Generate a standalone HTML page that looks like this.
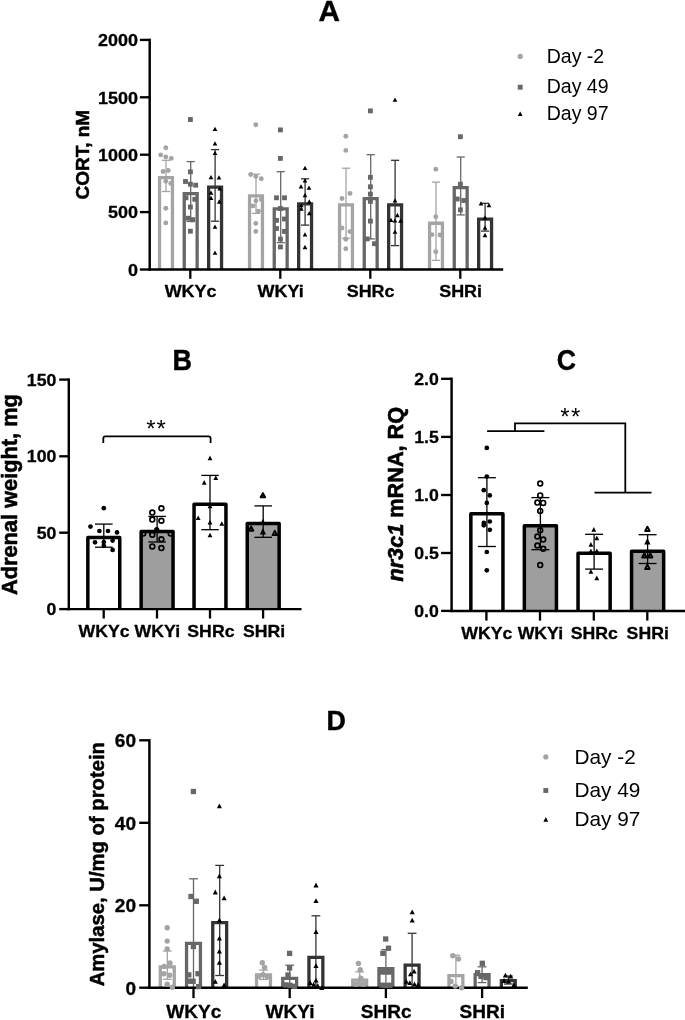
<!DOCTYPE html>
<html><head><meta charset="utf-8"><title>Figure</title>
<style>html,body{margin:0;padding:0;background:#fff;}svg{display:block;will-change:transform;}</style></head><body>
<svg width="685" height="1020" viewBox="0 0 685 1020">
<rect width="685" height="1020" fill="#fff"/>
<text x="0" y="0" font-family='"Liberation Sans", sans-serif' font-size="29.2" font-weight="bold" font-style="normal" text-anchor="middle" fill="#000" stroke="#000" stroke-width="0.4" stroke-linejoin="round" transform="translate(329.30 21.30) scale(1.02 1)">A</text>
<clipPath id="clipA"><rect x="0" y="0" width="685" height="270.70"/></clipPath>
<g clip-path="url(#clipA)">
<path d="M159.55 269.50 V177.55 H172.45 V269.50" fill="none" stroke="#a4a4a4" stroke-width="3.3" stroke-linejoin="miter"/>
<path d="M184.25 269.50 V193.65 H197.15 V269.50" fill="none" stroke="#676767" stroke-width="3.3" stroke-linejoin="miter"/>
<path d="M208.65 269.50 V187.05 H221.55 V269.50" fill="none" stroke="#343434" stroke-width="3.3" stroke-linejoin="miter"/>
<path d="M249.55 269.50 V195.85 H262.45 V269.50" fill="none" stroke="#a4a4a4" stroke-width="3.3" stroke-linejoin="miter"/>
<path d="M274.25 269.50 V208.95 H287.15 V269.50" fill="none" stroke="#676767" stroke-width="3.3" stroke-linejoin="miter"/>
<path d="M298.65 269.50 V203.85 H311.55 V269.50" fill="none" stroke="#343434" stroke-width="3.3" stroke-linejoin="miter"/>
<path d="M339.55 269.50 V204.95 H352.45 V269.50" fill="none" stroke="#a4a4a4" stroke-width="3.3" stroke-linejoin="miter"/>
<path d="M364.25 269.50 V198.65 H377.15 V269.50" fill="none" stroke="#676767" stroke-width="3.3" stroke-linejoin="miter"/>
<path d="M388.65 269.50 V204.95 H401.55 V269.50" fill="none" stroke="#343434" stroke-width="3.3" stroke-linejoin="miter"/>
<path d="M429.55 269.50 V223.25 H442.45 V269.50" fill="none" stroke="#a4a4a4" stroke-width="3.3" stroke-linejoin="miter"/>
<path d="M454.25 269.50 V187.55 H467.15 V269.50" fill="none" stroke="#676767" stroke-width="3.3" stroke-linejoin="miter"/>
<path d="M478.65 269.50 V219.15 H491.55 V269.50" fill="none" stroke="#343434" stroke-width="3.3" stroke-linejoin="miter"/>
<line x1="166.00" y1="160.30" x2="166.00" y2="191.50" stroke="#a4a4a4" stroke-width="1.3" stroke-linecap="butt"/>
<line x1="161.90" y1="160.30" x2="170.10" y2="160.30" stroke="#a4a4a4" stroke-width="1.3" stroke-linecap="butt"/>
<line x1="161.90" y1="191.50" x2="170.10" y2="191.50" stroke="#a4a4a4" stroke-width="1.3" stroke-linecap="butt"/>
<line x1="190.70" y1="161.60" x2="190.70" y2="221.50" stroke="#676767" stroke-width="1.3" stroke-linecap="butt"/>
<line x1="186.60" y1="161.60" x2="194.80" y2="161.60" stroke="#676767" stroke-width="1.3" stroke-linecap="butt"/>
<line x1="186.60" y1="221.50" x2="194.80" y2="221.50" stroke="#676767" stroke-width="1.3" stroke-linecap="butt"/>
<line x1="215.10" y1="149.60" x2="215.10" y2="221.20" stroke="#343434" stroke-width="1.3" stroke-linecap="butt"/>
<line x1="211.00" y1="149.60" x2="219.20" y2="149.60" stroke="#343434" stroke-width="1.3" stroke-linecap="butt"/>
<line x1="211.00" y1="221.20" x2="219.20" y2="221.20" stroke="#343434" stroke-width="1.3" stroke-linecap="butt"/>
<line x1="256.00" y1="174.20" x2="256.00" y2="213.40" stroke="#a4a4a4" stroke-width="1.3" stroke-linecap="butt"/>
<line x1="251.90" y1="174.20" x2="260.10" y2="174.20" stroke="#a4a4a4" stroke-width="1.3" stroke-linecap="butt"/>
<line x1="251.90" y1="213.40" x2="260.10" y2="213.40" stroke="#a4a4a4" stroke-width="1.3" stroke-linecap="butt"/>
<line x1="280.70" y1="171.70" x2="280.70" y2="242.60" stroke="#676767" stroke-width="1.3" stroke-linecap="butt"/>
<line x1="276.60" y1="171.70" x2="284.80" y2="171.70" stroke="#676767" stroke-width="1.3" stroke-linecap="butt"/>
<line x1="276.60" y1="242.60" x2="284.80" y2="242.60" stroke="#676767" stroke-width="1.3" stroke-linecap="butt"/>
<line x1="305.10" y1="178.80" x2="305.10" y2="225.10" stroke="#343434" stroke-width="1.3" stroke-linecap="butt"/>
<line x1="301.00" y1="178.80" x2="309.20" y2="178.80" stroke="#343434" stroke-width="1.3" stroke-linecap="butt"/>
<line x1="301.00" y1="225.10" x2="309.20" y2="225.10" stroke="#343434" stroke-width="1.3" stroke-linecap="butt"/>
<line x1="346.00" y1="168.20" x2="346.00" y2="238.20" stroke="#a4a4a4" stroke-width="1.3" stroke-linecap="butt"/>
<line x1="341.90" y1="168.20" x2="350.10" y2="168.20" stroke="#a4a4a4" stroke-width="1.3" stroke-linecap="butt"/>
<line x1="341.90" y1="238.20" x2="350.10" y2="238.20" stroke="#a4a4a4" stroke-width="1.3" stroke-linecap="butt"/>
<line x1="370.70" y1="154.70" x2="370.70" y2="238.90" stroke="#676767" stroke-width="1.3" stroke-linecap="butt"/>
<line x1="366.60" y1="154.70" x2="374.80" y2="154.70" stroke="#676767" stroke-width="1.3" stroke-linecap="butt"/>
<line x1="366.60" y1="238.90" x2="374.80" y2="238.90" stroke="#676767" stroke-width="1.3" stroke-linecap="butt"/>
<line x1="395.10" y1="160.30" x2="395.10" y2="245.60" stroke="#343434" stroke-width="1.3" stroke-linecap="butt"/>
<line x1="391.00" y1="160.30" x2="399.20" y2="160.30" stroke="#343434" stroke-width="1.3" stroke-linecap="butt"/>
<line x1="391.00" y1="245.60" x2="399.20" y2="245.60" stroke="#343434" stroke-width="1.3" stroke-linecap="butt"/>
<line x1="436.00" y1="182.10" x2="436.00" y2="260.30" stroke="#a4a4a4" stroke-width="1.3" stroke-linecap="butt"/>
<line x1="431.90" y1="182.10" x2="440.10" y2="182.10" stroke="#a4a4a4" stroke-width="1.3" stroke-linecap="butt"/>
<line x1="431.90" y1="260.30" x2="440.10" y2="260.30" stroke="#a4a4a4" stroke-width="1.3" stroke-linecap="butt"/>
<line x1="460.70" y1="157.00" x2="460.70" y2="214.90" stroke="#676767" stroke-width="1.3" stroke-linecap="butt"/>
<line x1="456.60" y1="157.00" x2="464.80" y2="157.00" stroke="#676767" stroke-width="1.3" stroke-linecap="butt"/>
<line x1="456.60" y1="214.90" x2="464.80" y2="214.90" stroke="#676767" stroke-width="1.3" stroke-linecap="butt"/>
<line x1="485.10" y1="203.30" x2="485.10" y2="231.10" stroke="#343434" stroke-width="1.3" stroke-linecap="butt"/>
<line x1="481.00" y1="203.30" x2="489.20" y2="203.30" stroke="#343434" stroke-width="1.3" stroke-linecap="butt"/>
<line x1="481.00" y1="231.10" x2="489.20" y2="231.10" stroke="#343434" stroke-width="1.3" stroke-linecap="butt"/>
</g>
<line x1="149.70" y1="38.70" x2="149.70" y2="270.70" stroke="#000" stroke-width="2.45" stroke-linecap="butt"/>
<line x1="148.50" y1="269.50" x2="503.20" y2="269.50" stroke="#000" stroke-width="2.45" stroke-linecap="butt"/>
<line x1="139.90" y1="39.90" x2="149.70" y2="39.90" stroke="#000" stroke-width="2.35" stroke-linecap="butt"/>
<text x="0" y="0" font-family='"Liberation Sans", sans-serif' font-size="17.3" font-weight="bold" font-style="normal" text-anchor="end" fill="#000" stroke="#000" stroke-width="0.3" stroke-linejoin="round" transform="translate(137.90 46.21) scale(1.04 1)">2000</text>
<line x1="139.90" y1="97.30" x2="149.70" y2="97.30" stroke="#000" stroke-width="2.35" stroke-linecap="butt"/>
<text x="0" y="0" font-family='"Liberation Sans", sans-serif' font-size="17.3" font-weight="bold" font-style="normal" text-anchor="end" fill="#000" stroke="#000" stroke-width="0.3" stroke-linejoin="round" transform="translate(137.90 103.61) scale(1.04 1)">1500</text>
<line x1="139.90" y1="154.70" x2="149.70" y2="154.70" stroke="#000" stroke-width="2.35" stroke-linecap="butt"/>
<text x="0" y="0" font-family='"Liberation Sans", sans-serif' font-size="17.3" font-weight="bold" font-style="normal" text-anchor="end" fill="#000" stroke="#000" stroke-width="0.3" stroke-linejoin="round" transform="translate(137.90 161.01) scale(1.04 1)">1000</text>
<line x1="139.90" y1="212.10" x2="149.70" y2="212.10" stroke="#000" stroke-width="2.35" stroke-linecap="butt"/>
<text x="0" y="0" font-family='"Liberation Sans", sans-serif' font-size="17.3" font-weight="bold" font-style="normal" text-anchor="end" fill="#000" stroke="#000" stroke-width="0.3" stroke-linejoin="round" transform="translate(137.90 218.41) scale(1.04 1)">500</text>
<line x1="139.90" y1="269.50" x2="149.70" y2="269.50" stroke="#000" stroke-width="2.35" stroke-linecap="butt"/>
<text x="0" y="0" font-family='"Liberation Sans", sans-serif' font-size="17.3" font-weight="bold" font-style="normal" text-anchor="end" fill="#000" stroke="#000" stroke-width="0.3" stroke-linejoin="round" transform="translate(137.90 275.81) scale(1.04 1)">0</text>
<line x1="190.30" y1="269.50" x2="190.30" y2="278.80" stroke="#000" stroke-width="2.3" stroke-linecap="butt"/>
<text x="0" y="0" font-family='"Liberation Sans", sans-serif' font-size="17.3" font-weight="bold" font-style="normal" text-anchor="middle" fill="#000" stroke="#000" stroke-width="0.3" stroke-linejoin="round" transform="translate(190.60 297.40) scale(1.04 1)">WKYc</text>
<line x1="280.30" y1="269.50" x2="280.30" y2="278.80" stroke="#000" stroke-width="2.3" stroke-linecap="butt"/>
<text x="0" y="0" font-family='"Liberation Sans", sans-serif' font-size="17.3" font-weight="bold" font-style="normal" text-anchor="middle" fill="#000" stroke="#000" stroke-width="0.3" stroke-linejoin="round" transform="translate(280.60 297.40) scale(1.04 1)">WKYi</text>
<line x1="370.30" y1="269.50" x2="370.30" y2="278.80" stroke="#000" stroke-width="2.3" stroke-linecap="butt"/>
<text x="0" y="0" font-family='"Liberation Sans", sans-serif' font-size="17.3" font-weight="bold" font-style="normal" text-anchor="middle" fill="#000" stroke="#000" stroke-width="0.3" stroke-linejoin="round" transform="translate(370.60 297.40) scale(1.04 1)">SHRc</text>
<line x1="460.30" y1="269.50" x2="460.30" y2="278.80" stroke="#000" stroke-width="2.3" stroke-linecap="butt"/>
<text x="0" y="0" font-family='"Liberation Sans", sans-serif' font-size="17.3" font-weight="bold" font-style="normal" text-anchor="middle" fill="#000" stroke="#000" stroke-width="0.3" stroke-linejoin="round" transform="translate(460.60 297.40) scale(1.04 1)">SHRi</text>
<circle cx="165.80" cy="147.70" r="2.45" fill="#a4a4a4"/>
<circle cx="160.70" cy="154.90" r="2.45" fill="#a4a4a4"/>
<circle cx="165.80" cy="156.90" r="2.45" fill="#a4a4a4"/>
<circle cx="171.30" cy="158.40" r="2.45" fill="#a4a4a4"/>
<circle cx="163.10" cy="171.50" r="2.45" fill="#a4a4a4"/>
<circle cx="168.20" cy="170.50" r="2.45" fill="#a4a4a4"/>
<circle cx="165.80" cy="181.20" r="2.45" fill="#a4a4a4"/>
<circle cx="170.80" cy="183.40" r="2.45" fill="#a4a4a4"/>
<circle cx="165.80" cy="208.30" r="2.45" fill="#a4a4a4"/>
<circle cx="165.80" cy="222.90" r="2.45" fill="#a4a4a4"/>
<rect x="187.97" y="117.08" width="4.85" height="4.85" fill="#676767"/>
<rect x="187.97" y="169.38" width="4.85" height="4.85" fill="#676767"/>
<rect x="183.07" y="179.07" width="4.85" height="4.85" fill="#676767"/>
<rect x="187.97" y="181.77" width="4.85" height="4.85" fill="#676767"/>
<rect x="193.27" y="182.77" width="4.85" height="4.85" fill="#676767"/>
<rect x="183.57" y="195.38" width="4.85" height="4.85" fill="#676767"/>
<rect x="192.38" y="196.88" width="4.85" height="4.85" fill="#676767"/>
<rect x="187.97" y="204.57" width="4.85" height="4.85" fill="#676767"/>
<rect x="185.97" y="215.77" width="4.85" height="4.85" fill="#676767"/>
<rect x="190.38" y="217.27" width="4.85" height="4.85" fill="#676767"/>
<rect x="187.97" y="228.77" width="4.85" height="4.85" fill="#676767"/>
<polygon points="215.00,126.75 217.35,131.05 212.65,131.05" fill="#000"/>
<polygon points="215.00,141.25 217.35,145.55 212.65,145.55" fill="#000"/>
<polygon points="215.00,150.65 217.35,154.95 212.65,154.95" fill="#000"/>
<polygon points="211.00,174.95 213.35,179.25 208.65,179.25" fill="#000"/>
<polygon points="219.00,175.25 221.35,179.55 216.65,179.55" fill="#000"/>
<polygon points="219.80,186.15 222.15,190.45 217.45,190.45" fill="#000"/>
<polygon points="211.00,190.55 213.35,194.85 208.65,194.85" fill="#000"/>
<polygon points="211.00,195.65 213.35,199.95 208.65,199.95" fill="#000"/>
<polygon points="219.30,199.35 221.65,203.65 216.95,203.65" fill="#000"/>
<polygon points="215.00,224.55 217.35,228.85 212.65,228.85" fill="#000"/>
<polygon points="215.00,250.45 217.35,254.75 212.65,254.75" fill="#000"/>
<circle cx="255.80" cy="124.80" r="2.45" fill="#a4a4a4"/>
<circle cx="250.70" cy="174.50" r="2.45" fill="#a4a4a4"/>
<circle cx="255.80" cy="176.40" r="2.45" fill="#a4a4a4"/>
<circle cx="261.30" cy="178.80" r="2.45" fill="#a4a4a4"/>
<circle cx="255.90" cy="200.80" r="2.45" fill="#a4a4a4"/>
<circle cx="261.30" cy="199.50" r="2.45" fill="#a4a4a4"/>
<circle cx="252.90" cy="205.90" r="2.45" fill="#a4a4a4"/>
<circle cx="258.40" cy="211.10" r="2.45" fill="#a4a4a4"/>
<circle cx="255.80" cy="223.40" r="2.45" fill="#a4a4a4"/>
<circle cx="255.80" cy="231.40" r="2.45" fill="#a4a4a4"/>
<rect x="277.97" y="127.48" width="4.85" height="4.85" fill="#676767"/>
<rect x="277.97" y="155.97" width="4.85" height="4.85" fill="#676767"/>
<rect x="274.07" y="195.38" width="4.85" height="4.85" fill="#676767"/>
<rect x="282.07" y="195.38" width="4.85" height="4.85" fill="#676767"/>
<rect x="277.97" y="206.07" width="4.85" height="4.85" fill="#676767"/>
<rect x="274.07" y="217.97" width="4.85" height="4.85" fill="#676767"/>
<rect x="282.07" y="216.57" width="4.85" height="4.85" fill="#676767"/>
<rect x="274.07" y="226.07" width="4.85" height="4.85" fill="#676767"/>
<rect x="282.07" y="228.97" width="4.85" height="4.85" fill="#676767"/>
<rect x="277.97" y="236.67" width="4.85" height="4.85" fill="#676767"/>
<rect x="277.97" y="244.57" width="4.85" height="4.85" fill="#676767"/>
<polygon points="305.00,165.75 307.35,170.05 302.65,170.05" fill="#000"/>
<polygon points="305.00,178.15 307.35,182.45 302.65,182.45" fill="#000"/>
<polygon points="301.00,184.25 303.35,188.55 298.65,188.55" fill="#000"/>
<polygon points="309.00,185.45 311.35,189.75 306.65,189.75" fill="#000"/>
<polygon points="305.00,193.05 307.35,197.35 302.65,197.35" fill="#000"/>
<polygon points="301.30,202.95 303.65,207.25 298.95,207.25" fill="#000"/>
<polygon points="301.30,206.35 303.65,210.65 298.95,210.65" fill="#000"/>
<polygon points="309.30,199.35 311.65,203.65 306.95,203.65" fill="#000"/>
<polygon points="309.30,210.95 311.65,215.25 306.95,215.25" fill="#000"/>
<polygon points="305.00,232.15 307.35,236.45 302.65,236.45" fill="#000"/>
<polygon points="305.00,244.85 307.35,249.15 302.65,249.15" fill="#000"/>
<circle cx="345.80" cy="136.20" r="2.45" fill="#a4a4a4"/>
<circle cx="345.80" cy="150.40" r="2.45" fill="#a4a4a4"/>
<circle cx="350.00" cy="193.40" r="2.45" fill="#a4a4a4"/>
<circle cx="342.00" cy="198.50" r="2.45" fill="#a4a4a4"/>
<circle cx="342.00" cy="228.00" r="2.45" fill="#a4a4a4"/>
<circle cx="350.00" cy="231.60" r="2.45" fill="#a4a4a4"/>
<circle cx="345.80" cy="239.30" r="2.45" fill="#a4a4a4"/>
<circle cx="345.80" cy="248.80" r="2.45" fill="#a4a4a4"/>
<rect x="367.97" y="108.48" width="4.85" height="4.85" fill="#676767"/>
<rect x="367.97" y="174.88" width="4.85" height="4.85" fill="#676767"/>
<rect x="367.97" y="184.38" width="4.85" height="4.85" fill="#676767"/>
<rect x="367.97" y="191.67" width="4.85" height="4.85" fill="#676767"/>
<rect x="367.97" y="198.97" width="4.85" height="4.85" fill="#676767"/>
<rect x="367.97" y="218.67" width="4.85" height="4.85" fill="#676767"/>
<rect x="364.77" y="236.47" width="4.85" height="4.85" fill="#676767"/>
<rect x="372.07" y="241.27" width="4.85" height="4.85" fill="#676767"/>
<polygon points="395.00,97.55 397.35,101.85 392.65,101.85" fill="#000"/>
<polygon points="395.00,198.25 397.35,202.55 392.65,202.55" fill="#000"/>
<polygon points="397.40,212.85 399.75,217.15 395.05,217.15" fill="#000"/>
<polygon points="391.00,217.75 393.35,222.05 388.65,222.05" fill="#000"/>
<polygon points="395.00,218.25 397.35,222.55 392.65,222.55" fill="#000"/>
<polygon points="400.50,218.55 402.85,222.85 398.15,222.85" fill="#000"/>
<polygon points="395.00,229.45 397.35,233.75 392.65,233.75" fill="#000"/>
<circle cx="435.80" cy="169.30" r="2.45" fill="#a4a4a4"/>
<circle cx="435.80" cy="216.80" r="2.45" fill="#a4a4a4"/>
<circle cx="432.00" cy="234.60" r="2.45" fill="#a4a4a4"/>
<circle cx="440.00" cy="235.00" r="2.45" fill="#a4a4a4"/>
<circle cx="435.80" cy="251.80" r="2.45" fill="#a4a4a4"/>
<rect x="457.97" y="134.27" width="4.85" height="4.85" fill="#676767"/>
<rect x="457.97" y="181.77" width="4.85" height="4.85" fill="#676767"/>
<rect x="454.77" y="196.57" width="4.85" height="4.85" fill="#676767"/>
<rect x="461.38" y="198.07" width="4.85" height="4.85" fill="#676767"/>
<rect x="457.97" y="207.47" width="4.85" height="4.85" fill="#676767"/>
<polygon points="481.00,201.25 483.35,205.55 478.65,205.55" fill="#000"/>
<polygon points="489.00,203.05 491.35,207.35 486.65,207.35" fill="#000"/>
<polygon points="485.00,215.35 487.35,219.65 482.65,219.65" fill="#000"/>
<polygon points="485.00,225.55 487.35,229.85 482.65,229.85" fill="#000"/>
<polygon points="485.00,232.85 487.35,237.15 482.65,237.15" fill="#000"/>
<text x="0" y="0" font-family='"Liberation Sans", sans-serif' font-size="19.0" font-weight="bold" font-style="normal" text-anchor="middle" fill="#000" stroke="#000" stroke-width="0.5" stroke-linejoin="round" transform="translate(89.30 154.70) rotate(-90)">CORT, nM</text>
<circle cx="520.20" cy="56.40" r="2.6" fill="#a4a4a4"/>
<rect x="517.75" y="84.75" width="4.9" height="4.9" fill="#676767"/>
<polygon points="520.20,111.50 522.60,116.10 517.80,116.10" fill="#000"/>
<text x="0" y="0" font-family='"Liberation Sans", sans-serif' font-size="19.5" font-weight="normal" font-style="normal" text-anchor="start" fill="#000" transform="translate(546.70 62.50)">Day -2</text>
<text x="0" y="0" font-family='"Liberation Sans", sans-serif' font-size="19.5" font-weight="normal" font-style="normal" text-anchor="start" fill="#000" transform="translate(546.70 92.80)">Day 49</text>
<text x="0" y="0" font-family='"Liberation Sans", sans-serif' font-size="19.5" font-weight="normal" font-style="normal" text-anchor="start" fill="#000" transform="translate(546.70 119.60)">Day 97</text>
<text x="0" y="0" font-family='"Liberation Sans", sans-serif' font-size="28.3" font-weight="bold" font-style="normal" text-anchor="middle" fill="#000" stroke="#000" stroke-width="0.4" stroke-linejoin="round" transform="translate(336.10 729.80) scale(0.95 1)">D</text>
<clipPath id="clipD"><rect x="0" y="0" width="685" height="988.90"/></clipPath>
<g clip-path="url(#clipD)">
<path d="M160.35 987.70 V966.85 H174.25 V987.70" fill="none" stroke="#a4a4a4" stroke-width="3.3" stroke-linejoin="miter"/>
<path d="M186.55 987.70 V943.35 H200.45 V987.70" fill="none" stroke="#676767" stroke-width="3.3" stroke-linejoin="miter"/>
<path d="M212.75 987.70 V922.65 H226.65 V987.70" fill="none" stroke="#343434" stroke-width="3.3" stroke-linejoin="miter"/>
<path d="M256.55 987.70 V974.85 H270.45 V987.70" fill="none" stroke="#a4a4a4" stroke-width="3.3" stroke-linejoin="miter"/>
<path d="M282.75 987.70 V978.35 H296.65 V987.70" fill="none" stroke="#676767" stroke-width="3.3" stroke-linejoin="miter"/>
<path d="M308.95 987.70 V957.35 H322.85 V987.70" fill="none" stroke="#343434" stroke-width="3.3" stroke-linejoin="miter"/>
<path d="M352.75 987.70 V980.15 H366.65 V987.70" fill="none" stroke="#a4a4a4" stroke-width="3.3" stroke-linejoin="miter"/>
<path d="M378.95 987.70 V968.55 H392.85 V987.70" fill="none" stroke="#676767" stroke-width="3.3" stroke-linejoin="miter"/>
<path d="M405.15 987.70 V965.05 H419.05 V987.70" fill="none" stroke="#343434" stroke-width="3.3" stroke-linejoin="miter"/>
<path d="M448.95 987.70 V975.55 H462.85 V987.70" fill="none" stroke="#a4a4a4" stroke-width="3.3" stroke-linejoin="miter"/>
<path d="M475.15 987.70 V974.65 H489.05 V987.70" fill="none" stroke="#676767" stroke-width="3.3" stroke-linejoin="miter"/>
<path d="M501.35 987.70 V980.65 H515.25 V987.70" fill="none" stroke="#343434" stroke-width="3.3" stroke-linejoin="miter"/>
<line x1="167.30" y1="951.00" x2="167.30" y2="979.30" stroke="#a4a4a4" stroke-width="1.3" stroke-linecap="butt"/>
<line x1="162.90" y1="951.00" x2="171.70" y2="951.00" stroke="#a4a4a4" stroke-width="1.3" stroke-linecap="butt"/>
<line x1="162.90" y1="979.30" x2="171.70" y2="979.30" stroke="#a4a4a4" stroke-width="1.3" stroke-linecap="butt"/>
<line x1="193.50" y1="878.80" x2="193.50" y2="987.70" stroke="#676767" stroke-width="1.3" stroke-linecap="butt"/>
<line x1="189.10" y1="878.80" x2="197.90" y2="878.80" stroke="#676767" stroke-width="1.3" stroke-linecap="butt"/>
<line x1="219.70" y1="865.40" x2="219.70" y2="975.50" stroke="#343434" stroke-width="1.3" stroke-linecap="butt"/>
<line x1="215.30" y1="865.40" x2="224.10" y2="865.40" stroke="#343434" stroke-width="1.3" stroke-linecap="butt"/>
<line x1="215.30" y1="975.50" x2="224.10" y2="975.50" stroke="#343434" stroke-width="1.3" stroke-linecap="butt"/>
<line x1="263.50" y1="970.10" x2="263.50" y2="979.50" stroke="#a4a4a4" stroke-width="1.3" stroke-linecap="butt"/>
<line x1="259.10" y1="970.10" x2="267.90" y2="970.10" stroke="#a4a4a4" stroke-width="1.3" stroke-linecap="butt"/>
<line x1="259.10" y1="979.50" x2="267.90" y2="979.50" stroke="#a4a4a4" stroke-width="1.3" stroke-linecap="butt"/>
<line x1="289.70" y1="965.20" x2="289.70" y2="987.70" stroke="#676767" stroke-width="1.3" stroke-linecap="butt"/>
<line x1="285.30" y1="965.20" x2="294.10" y2="965.20" stroke="#676767" stroke-width="1.3" stroke-linecap="butt"/>
<line x1="315.90" y1="915.80" x2="315.90" y2="987.70" stroke="#343434" stroke-width="1.3" stroke-linecap="butt"/>
<line x1="311.50" y1="915.80" x2="320.30" y2="915.80" stroke="#343434" stroke-width="1.3" stroke-linecap="butt"/>
<line x1="359.70" y1="971.80" x2="359.70" y2="987.70" stroke="#a4a4a4" stroke-width="1.3" stroke-linecap="butt"/>
<line x1="355.30" y1="971.80" x2="364.10" y2="971.80" stroke="#a4a4a4" stroke-width="1.3" stroke-linecap="butt"/>
<line x1="385.90" y1="949.60" x2="385.90" y2="987.00" stroke="#676767" stroke-width="1.3" stroke-linecap="butt"/>
<line x1="381.50" y1="949.60" x2="390.30" y2="949.60" stroke="#676767" stroke-width="1.3" stroke-linecap="butt"/>
<line x1="381.50" y1="987.00" x2="390.30" y2="987.00" stroke="#676767" stroke-width="1.3" stroke-linecap="butt"/>
<line x1="412.10" y1="933.30" x2="412.10" y2="987.70" stroke="#343434" stroke-width="1.3" stroke-linecap="butt"/>
<line x1="407.70" y1="933.30" x2="416.50" y2="933.30" stroke="#343434" stroke-width="1.3" stroke-linecap="butt"/>
<line x1="455.90" y1="955.20" x2="455.90" y2="987.70" stroke="#a4a4a4" stroke-width="1.3" stroke-linecap="butt"/>
<line x1="451.50" y1="955.20" x2="460.30" y2="955.20" stroke="#a4a4a4" stroke-width="1.3" stroke-linecap="butt"/>
<line x1="482.10" y1="966.80" x2="482.10" y2="982.60" stroke="#676767" stroke-width="1.3" stroke-linecap="butt"/>
<line x1="477.70" y1="966.80" x2="486.50" y2="966.80" stroke="#676767" stroke-width="1.3" stroke-linecap="butt"/>
<line x1="477.70" y1="982.60" x2="486.50" y2="982.60" stroke="#676767" stroke-width="1.3" stroke-linecap="butt"/>
<line x1="508.30" y1="976.00" x2="508.30" y2="984.00" stroke="#343434" stroke-width="1.3" stroke-linecap="butt"/>
<line x1="503.90" y1="976.00" x2="512.70" y2="976.00" stroke="#343434" stroke-width="1.3" stroke-linecap="butt"/>
<line x1="503.90" y1="984.00" x2="512.70" y2="984.00" stroke="#343434" stroke-width="1.3" stroke-linecap="butt"/>
</g>
<line x1="149.40" y1="739.10" x2="149.40" y2="988.90" stroke="#000" stroke-width="2.45" stroke-linecap="butt"/>
<line x1="148.20" y1="987.70" x2="527.80" y2="987.70" stroke="#000" stroke-width="2.45" stroke-linecap="butt"/>
<line x1="139.20" y1="740.30" x2="149.40" y2="740.30" stroke="#000" stroke-width="2.35" stroke-linecap="butt"/>
<text x="0" y="0" font-family='"Liberation Sans", sans-serif' font-size="18.0" font-weight="bold" font-style="normal" text-anchor="end" fill="#000" stroke="#000" stroke-width="0.3" stroke-linejoin="round" transform="translate(136.00 747.26) scale(1.06 1)">60</text>
<line x1="139.20" y1="822.80" x2="149.40" y2="822.80" stroke="#000" stroke-width="2.35" stroke-linecap="butt"/>
<text x="0" y="0" font-family='"Liberation Sans", sans-serif' font-size="18.0" font-weight="bold" font-style="normal" text-anchor="end" fill="#000" stroke="#000" stroke-width="0.3" stroke-linejoin="round" transform="translate(136.00 829.76) scale(1.06 1)">40</text>
<line x1="139.20" y1="905.30" x2="149.40" y2="905.30" stroke="#000" stroke-width="2.35" stroke-linecap="butt"/>
<text x="0" y="0" font-family='"Liberation Sans", sans-serif' font-size="18.0" font-weight="bold" font-style="normal" text-anchor="end" fill="#000" stroke="#000" stroke-width="0.3" stroke-linejoin="round" transform="translate(136.00 912.26) scale(1.06 1)">20</text>
<line x1="139.20" y1="987.70" x2="149.40" y2="987.70" stroke="#000" stroke-width="2.35" stroke-linecap="butt"/>
<text x="0" y="0" font-family='"Liberation Sans", sans-serif' font-size="18.0" font-weight="bold" font-style="normal" text-anchor="end" fill="#000" stroke="#000" stroke-width="0.3" stroke-linejoin="round" transform="translate(136.00 994.66) scale(1.06 1)">0</text>
<line x1="193.50" y1="987.70" x2="193.50" y2="998.10" stroke="#000" stroke-width="2.3" stroke-linecap="butt"/>
<text x="0" y="0" font-family='"Liberation Sans", sans-serif' font-size="18.0" font-weight="bold" font-style="normal" text-anchor="middle" fill="#000" stroke="#000" stroke-width="0.3" stroke-linejoin="round" transform="translate(193.80 1017.70) scale(1.06 1)">WKYc</text>
<line x1="289.70" y1="987.70" x2="289.70" y2="998.10" stroke="#000" stroke-width="2.3" stroke-linecap="butt"/>
<text x="0" y="0" font-family='"Liberation Sans", sans-serif' font-size="18.0" font-weight="bold" font-style="normal" text-anchor="middle" fill="#000" stroke="#000" stroke-width="0.3" stroke-linejoin="round" transform="translate(290.00 1017.70) scale(1.06 1)">WKYi</text>
<line x1="385.90" y1="987.70" x2="385.90" y2="998.10" stroke="#000" stroke-width="2.3" stroke-linecap="butt"/>
<text x="0" y="0" font-family='"Liberation Sans", sans-serif' font-size="18.0" font-weight="bold" font-style="normal" text-anchor="middle" fill="#000" stroke="#000" stroke-width="0.3" stroke-linejoin="round" transform="translate(386.20 1017.70) scale(1.06 1)">SHRc</text>
<line x1="482.10" y1="987.70" x2="482.10" y2="998.10" stroke="#000" stroke-width="2.3" stroke-linecap="butt"/>
<text x="0" y="0" font-family='"Liberation Sans", sans-serif' font-size="18.0" font-weight="bold" font-style="normal" text-anchor="middle" fill="#000" stroke="#000" stroke-width="0.3" stroke-linejoin="round" transform="translate(482.40 1017.70) scale(1.06 1)">SHRi</text>
<circle cx="167.20" cy="927.70" r="2.7" fill="#a4a4a4"/>
<circle cx="167.20" cy="941.10" r="2.7" fill="#a4a4a4"/>
<circle cx="167.20" cy="949.00" r="2.7" fill="#a4a4a4"/>
<circle cx="170.00" cy="963.00" r="2.7" fill="#a4a4a4"/>
<circle cx="164.30" cy="966.50" r="2.7" fill="#a4a4a4"/>
<circle cx="163.90" cy="973.70" r="2.7" fill="#a4a4a4"/>
<circle cx="169.60" cy="975.30" r="2.7" fill="#a4a4a4"/>
<circle cx="167.20" cy="984.20" r="2.7" fill="#a4a4a4"/>
<circle cx="172.40" cy="987.20" r="2.7" fill="#a4a4a4"/>
<rect x="190.75" y="788.85" width="5.3" height="5.3" fill="#676767"/>
<rect x="188.35" y="893.85" width="5.3" height="5.3" fill="#676767"/>
<rect x="193.65" y="898.65" width="5.3" height="5.3" fill="#676767"/>
<rect x="190.75" y="943.85" width="5.3" height="5.3" fill="#676767"/>
<rect x="186.15" y="972.25" width="5.3" height="5.3" fill="#676767"/>
<rect x="195.35" y="971.05" width="5.3" height="5.3" fill="#676767"/>
<rect x="190.45" y="978.65" width="5.3" height="5.3" fill="#676767"/>
<rect x="186.25" y="978.55" width="5.3" height="5.3" fill="#676767"/>
<rect x="196.05" y="983.95" width="5.3" height="5.3" fill="#676767"/>
<polygon points="219.40,803.40 221.95,808.20 216.85,808.20" fill="#000"/>
<polygon points="219.40,873.50 221.95,878.30 216.85,878.30" fill="#000"/>
<polygon points="215.30,889.60 217.85,894.40 212.75,894.40" fill="#000"/>
<polygon points="224.10,895.40 226.65,900.20 221.55,900.20" fill="#000"/>
<polygon points="219.40,917.60 221.95,922.40 216.85,922.40" fill="#000"/>
<polygon points="219.40,935.70 221.95,940.50 216.85,940.50" fill="#000"/>
<polygon points="219.40,948.80 221.95,953.60 216.85,953.60" fill="#000"/>
<polygon points="219.40,959.90 221.95,964.70 216.85,964.70" fill="#000"/>
<polygon points="215.30,978.90 217.85,983.70 212.75,983.70" fill="#000"/>
<polygon points="224.10,982.40 226.65,987.20 221.55,987.20" fill="#000"/>
<circle cx="262.30" cy="962.70" r="2.7" fill="#a4a4a4"/>
<circle cx="264.60" cy="967.40" r="2.7" fill="#a4a4a4"/>
<circle cx="259.00" cy="976.20" r="2.7" fill="#a4a4a4"/>
<circle cx="267.30" cy="976.70" r="2.7" fill="#a4a4a4"/>
<circle cx="263.00" cy="974.80" r="2.7" fill="#a4a4a4"/>
<rect x="286.95" y="950.75" width="5.3" height="5.3" fill="#676767"/>
<rect x="286.95" y="965.35" width="5.3" height="5.3" fill="#676767"/>
<rect x="285.35" y="972.35" width="5.3" height="5.3" fill="#676767"/>
<rect x="282.85" y="982.25" width="5.3" height="5.3" fill="#676767"/>
<rect x="287.35" y="982.65" width="5.3" height="5.3" fill="#676767"/>
<rect x="291.85" y="983.65" width="5.3" height="5.3" fill="#676767"/>
<polygon points="316.00,882.60 318.55,887.40 313.45,887.40" fill="#000"/>
<polygon points="316.00,898.30 318.55,903.10 313.45,903.10" fill="#000"/>
<polygon points="316.00,929.30 318.55,934.10 313.45,934.10" fill="#000"/>
<polygon points="316.00,963.10 318.55,967.90 313.45,967.90" fill="#000"/>
<polygon points="316.00,977.70 318.55,982.50 313.45,982.50" fill="#000"/>
<polygon points="310.10,980.10 312.65,984.90 307.55,984.90" fill="#000"/>
<polygon points="313.60,981.90 316.15,986.70 311.05,986.70" fill="#000"/>
<polygon points="317.70,983.10 320.25,987.90 315.15,987.90" fill="#000"/>
<polygon points="321.80,985.20 324.35,990.00 319.25,990.00" fill="#000"/>
<circle cx="358.40" cy="963.40" r="2.7" fill="#a4a4a4"/>
<circle cx="360.20" cy="969.70" r="2.7" fill="#a4a4a4"/>
<circle cx="360.80" cy="978.20" r="2.7" fill="#a4a4a4"/>
<circle cx="355.30" cy="984.30" r="2.7" fill="#a4a4a4"/>
<circle cx="359.50" cy="983.60" r="2.7" fill="#a4a4a4"/>
<circle cx="363.80" cy="984.30" r="2.7" fill="#a4a4a4"/>
<rect x="383.05" y="936.35" width="5.3" height="5.3" fill="#676767"/>
<rect x="385.85" y="945.55" width="5.3" height="5.3" fill="#676767"/>
<rect x="380.25" y="950.65" width="5.3" height="5.3" fill="#676767"/>
<rect x="379.15" y="969.35" width="5.3" height="5.3" fill="#676767"/>
<rect x="383.35" y="969.35" width="5.3" height="5.3" fill="#676767"/>
<rect x="387.55" y="969.35" width="5.3" height="5.3" fill="#676767"/>
<rect x="379.35" y="982.55" width="5.3" height="5.3" fill="#676767"/>
<rect x="383.35" y="982.85" width="5.3" height="5.3" fill="#676767"/>
<rect x="387.35" y="982.55" width="5.3" height="5.3" fill="#676767"/>
<polygon points="412.20,909.50 414.75,914.30 409.65,914.30" fill="#000"/>
<polygon points="412.20,917.70 414.75,922.50 409.65,922.50" fill="#000"/>
<polygon points="414.10,968.70 416.65,973.50 411.55,973.50" fill="#000"/>
<polygon points="410.60,971.40 413.15,976.20 408.05,976.20" fill="#000"/>
<polygon points="406.30,979.00 408.85,983.80 403.75,983.80" fill="#000"/>
<polygon points="409.80,980.20 412.35,985.00 407.25,985.00" fill="#000"/>
<polygon points="414.50,981.60 417.05,986.40 411.95,986.40" fill="#000"/>
<polygon points="418.00,982.30 420.55,987.10 415.45,987.10" fill="#000"/>
<circle cx="452.80" cy="955.70" r="2.7" fill="#a4a4a4"/>
<circle cx="458.50" cy="959.00" r="2.7" fill="#a4a4a4"/>
<circle cx="451.10" cy="981.40" r="2.7" fill="#a4a4a4"/>
<circle cx="455.20" cy="986.10" r="2.7" fill="#a4a4a4"/>
<circle cx="461.60" cy="987.80" r="2.7" fill="#a4a4a4"/>
<rect x="479.65" y="960.65" width="5.3" height="5.3" fill="#676767"/>
<rect x="474.95" y="970.05" width="5.3" height="5.3" fill="#676767"/>
<rect x="478.35" y="973.75" width="5.3" height="5.3" fill="#676767"/>
<rect x="483.35" y="974.95" width="5.3" height="5.3" fill="#676767"/>
<polygon points="505.40,972.80 507.95,977.60 502.85,977.60" fill="#000"/>
<polygon points="510.70,973.80 513.25,978.60 508.15,978.60" fill="#000"/>
<polygon points="504.00,978.10 506.55,982.90 501.45,982.90" fill="#000"/>
<polygon points="508.50,978.60 511.05,983.40 505.95,983.40" fill="#000"/>
<polygon points="513.80,982.50 516.35,987.30 511.25,987.30" fill="#000"/>
<text x="0" y="0" font-family='"Liberation Sans", sans-serif' font-size="20.25" font-weight="bold" font-style="normal" text-anchor="middle" fill="#000" stroke="#000" stroke-width="0.5" stroke-linejoin="round" transform="translate(103.80 864.20) rotate(-90)">Amylase, U/mg of protein</text>
<circle cx="545.80" cy="756.90" r="2.6" fill="#a4a4a4"/>
<rect x="543.35" y="788.05" width="4.9" height="4.9" fill="#676767"/>
<polygon points="545.80,817.10 548.20,821.70 543.40,821.70" fill="#000"/>
<text x="0" y="0" font-family='"Liberation Sans", sans-serif' font-size="20.8" font-weight="normal" font-style="normal" text-anchor="start" fill="#000" transform="translate(574.50 763.70)">Day -2</text>
<text x="0" y="0" font-family='"Liberation Sans", sans-serif' font-size="20.8" font-weight="normal" font-style="normal" text-anchor="start" fill="#000" transform="translate(574.50 797.00)">Day 49</text>
<text x="0" y="0" font-family='"Liberation Sans", sans-serif' font-size="20.8" font-weight="normal" font-style="normal" text-anchor="start" fill="#000" transform="translate(574.50 825.90)">Day 97</text>
<text x="0" y="0" font-family='"Liberation Sans", sans-serif' font-size="29.3" font-weight="bold" font-style="normal" text-anchor="middle" fill="#000" stroke="#000" stroke-width="0.4" stroke-linejoin="round" transform="translate(182.30 369.80) scale(0.92 1)">B</text>
<rect x="87.85" y="537.45" width="31.90" height="71.65" fill="#fff"/>
<path d="M87.85 609.10 V537.45 H119.75 V609.10" fill="none" stroke="#000" stroke-width="3.5" stroke-linejoin="round"/>
<rect x="141.15" y="531.45" width="31.90" height="77.65" fill="#9e9e9e"/>
<path d="M141.15 609.10 V531.45 H173.05 V609.10" fill="none" stroke="#000" stroke-width="3.5" stroke-linejoin="round"/>
<rect x="194.05" y="504.15" width="31.90" height="104.95" fill="#fff"/>
<path d="M194.05 609.10 V504.15 H225.95 V609.10" fill="none" stroke="#000" stroke-width="3.5" stroke-linejoin="round"/>
<rect x="247.25" y="523.55" width="31.90" height="85.55" fill="#9e9e9e"/>
<path d="M247.25 609.10 V523.55 H279.15 V609.10" fill="none" stroke="#000" stroke-width="3.5" stroke-linejoin="round"/>
<line x1="103.80" y1="524.10" x2="103.80" y2="547.20" stroke="#000" stroke-width="1.3" stroke-linecap="butt"/>
<line x1="95.00" y1="524.10" x2="112.60" y2="524.10" stroke="#000" stroke-width="1.3" stroke-linecap="butt"/>
<line x1="95.00" y1="547.20" x2="112.60" y2="547.20" stroke="#000" stroke-width="1.3" stroke-linecap="butt"/>
<line x1="157.10" y1="516.40" x2="157.10" y2="542.00" stroke="#000" stroke-width="1.3" stroke-linecap="butt"/>
<line x1="148.30" y1="516.40" x2="165.90" y2="516.40" stroke="#000" stroke-width="1.3" stroke-linecap="butt"/>
<line x1="148.30" y1="542.00" x2="165.90" y2="542.00" stroke="#000" stroke-width="1.3" stroke-linecap="butt"/>
<line x1="210.00" y1="475.40" x2="210.00" y2="529.70" stroke="#000" stroke-width="1.3" stroke-linecap="butt"/>
<line x1="201.20" y1="475.40" x2="218.80" y2="475.40" stroke="#000" stroke-width="1.3" stroke-linecap="butt"/>
<line x1="201.20" y1="529.70" x2="218.80" y2="529.70" stroke="#000" stroke-width="1.3" stroke-linecap="butt"/>
<line x1="263.20" y1="505.90" x2="263.20" y2="537.30" stroke="#000" stroke-width="1.3" stroke-linecap="butt"/>
<line x1="254.40" y1="505.90" x2="272.00" y2="505.90" stroke="#000" stroke-width="1.3" stroke-linecap="butt"/>
<line x1="254.40" y1="537.30" x2="272.00" y2="537.30" stroke="#000" stroke-width="1.3" stroke-linecap="butt"/>
<circle cx="103.80" cy="508.20" r="2.35" fill="#000"/>
<circle cx="90.50" cy="526.60" r="2.35" fill="#000"/>
<circle cx="99.40" cy="531.00" r="2.35" fill="#000"/>
<circle cx="108.00" cy="531.00" r="2.35" fill="#000"/>
<circle cx="117.00" cy="532.40" r="2.35" fill="#000"/>
<circle cx="95.00" cy="542.30" r="2.35" fill="#000"/>
<circle cx="103.80" cy="542.00" r="2.35" fill="#000"/>
<circle cx="112.60" cy="540.60" r="2.35" fill="#000"/>
<circle cx="103.80" cy="545.80" r="2.35" fill="#000"/>
<circle cx="112.60" cy="549.90" r="2.35" fill="#000"/>
<circle cx="161.40" cy="508.20" r="2.4" fill="none" stroke="#000" stroke-width="1.7"/>
<circle cx="152.30" cy="512.60" r="2.4" fill="none" stroke="#000" stroke-width="1.7"/>
<circle cx="152.30" cy="519.60" r="2.4" fill="none" stroke="#000" stroke-width="1.7"/>
<circle cx="161.40" cy="520.80" r="2.4" fill="none" stroke="#000" stroke-width="1.7"/>
<circle cx="143.20" cy="533.60" r="2.4" fill="none" stroke="#000" stroke-width="1.7"/>
<circle cx="170.70" cy="533.60" r="2.4" fill="none" stroke="#000" stroke-width="1.7"/>
<circle cx="152.30" cy="534.80" r="2.4" fill="none" stroke="#000" stroke-width="1.7"/>
<circle cx="161.40" cy="539.20" r="2.4" fill="none" stroke="#000" stroke-width="1.7"/>
<circle cx="152.30" cy="546.40" r="2.4" fill="none" stroke="#000" stroke-width="1.7"/>
<circle cx="161.40" cy="548.10" r="2.4" fill="none" stroke="#000" stroke-width="1.7"/>
<circle cx="156.70" cy="529.70" r="2.6" fill="#000"/>
<polygon points="210.00,455.60 212.40,460.20 207.60,460.20" fill="#000"/>
<polygon points="215.80,475.30 218.20,479.90 213.40,479.90" fill="#000"/>
<polygon points="204.20,480.10 206.60,484.70 201.80,484.70" fill="#000"/>
<polygon points="210.00,503.60 212.40,508.20 207.60,508.20" fill="#000"/>
<polygon points="198.20,515.40 200.60,520.00 195.80,520.00" fill="#000"/>
<polygon points="210.00,520.00 212.40,524.60 207.60,524.60" fill="#000"/>
<polygon points="221.80,521.20 224.20,525.80 219.40,525.80" fill="#000"/>
<polygon points="210.00,532.70 212.40,537.30 207.60,537.30" fill="#000"/>
<polygon points="262.90,493.10 265.10,497.30 260.70,497.30" fill="none" stroke="#000" stroke-width="2.0" stroke-linejoin="round"/>
<polygon points="251.10,526.50 253.30,530.70 248.90,530.70" fill="none" stroke="#000" stroke-width="2.0" stroke-linejoin="round"/>
<polygon points="274.80,530.90 277.00,535.10 272.60,535.10" fill="none" stroke="#000" stroke-width="2.0" stroke-linejoin="round"/>
<polygon points="262.90,528.00 266.00,534.60 259.80,534.60" fill="#000"/>
<polygon points="262.90,519.00 265.30,523.40 260.50,523.40" fill="#000"/>
<line x1="68.80" y1="378.40" x2="68.80" y2="610.30" stroke="#000" stroke-width="2.45" stroke-linecap="butt"/>
<line x1="67.60" y1="609.10" x2="301.50" y2="609.10" stroke="#000" stroke-width="2.45" stroke-linecap="butt"/>
<line x1="59.20" y1="379.60" x2="68.80" y2="379.60" stroke="#000" stroke-width="2.35" stroke-linecap="butt"/>
<text x="0" y="0" font-family='"Liberation Sans", sans-serif' font-size="17.0" font-weight="bold" font-style="normal" text-anchor="end" fill="#000" stroke="#000" stroke-width="0.3" stroke-linejoin="round" transform="translate(56.30 385.60) scale(1.04 1)">150</text>
<line x1="59.20" y1="456.30" x2="68.80" y2="456.30" stroke="#000" stroke-width="2.35" stroke-linecap="butt"/>
<text x="0" y="0" font-family='"Liberation Sans", sans-serif' font-size="17.0" font-weight="bold" font-style="normal" text-anchor="end" fill="#000" stroke="#000" stroke-width="0.3" stroke-linejoin="round" transform="translate(56.30 462.30) scale(1.04 1)">100</text>
<line x1="59.20" y1="532.70" x2="68.80" y2="532.70" stroke="#000" stroke-width="2.35" stroke-linecap="butt"/>
<text x="0" y="0" font-family='"Liberation Sans", sans-serif' font-size="17.0" font-weight="bold" font-style="normal" text-anchor="end" fill="#000" stroke="#000" stroke-width="0.3" stroke-linejoin="round" transform="translate(56.30 538.70) scale(1.04 1)">50</text>
<line x1="59.20" y1="609.10" x2="68.80" y2="609.10" stroke="#000" stroke-width="2.35" stroke-linecap="butt"/>
<text x="0" y="0" font-family='"Liberation Sans", sans-serif' font-size="17.0" font-weight="bold" font-style="normal" text-anchor="end" fill="#000" stroke="#000" stroke-width="0.3" stroke-linejoin="round" transform="translate(56.30 615.10) scale(1.04 1)">0</text>
<line x1="103.70" y1="609.10" x2="103.70" y2="618.50" stroke="#000" stroke-width="2.3" stroke-linecap="butt"/>
<text x="0" y="0" font-family='"Liberation Sans", sans-serif' font-size="17.0" font-weight="bold" font-style="normal" text-anchor="middle" fill="#000" stroke="#000" stroke-width="0.3" stroke-linejoin="round" transform="translate(104.00 636.90) scale(1.04 1)">WKYc</text>
<line x1="157.00" y1="609.10" x2="157.00" y2="618.50" stroke="#000" stroke-width="2.3" stroke-linecap="butt"/>
<text x="0" y="0" font-family='"Liberation Sans", sans-serif' font-size="17.0" font-weight="bold" font-style="normal" text-anchor="middle" fill="#000" stroke="#000" stroke-width="0.3" stroke-linejoin="round" transform="translate(157.30 636.90) scale(1.04 1)">WKYi</text>
<line x1="210.00" y1="609.10" x2="210.00" y2="618.50" stroke="#000" stroke-width="2.3" stroke-linecap="butt"/>
<text x="0" y="0" font-family='"Liberation Sans", sans-serif' font-size="17.0" font-weight="bold" font-style="normal" text-anchor="middle" fill="#000" stroke="#000" stroke-width="0.3" stroke-linejoin="round" transform="translate(210.90 636.90) scale(1.04 1)">SHRc</text>
<line x1="263.10" y1="609.10" x2="263.10" y2="618.50" stroke="#000" stroke-width="2.3" stroke-linecap="butt"/>
<text x="0" y="0" font-family='"Liberation Sans", sans-serif' font-size="17.0" font-weight="bold" font-style="normal" text-anchor="middle" fill="#000" stroke="#000" stroke-width="0.3" stroke-linejoin="round" transform="translate(264.00 636.90) scale(1.04 1)">SHRi</text>
<text x="0" y="0" font-family='"Liberation Sans", sans-serif' font-size="21.8" font-weight="bold" font-style="normal" text-anchor="middle" fill="#000" stroke="#000" stroke-width="0.6" stroke-linejoin="round" transform="translate(16.90 494.60) rotate(-90)">Adrenal weight, mg</text>
<path d="M103.3 442.9 V438.4 Q103.3 436.4 105.3 436.4 H208.6 Q210.6 436.4 210.6 438.4 V442.9" fill="none" stroke="#000" stroke-width="1.8"/>
<text x="0" y="0" font-family='"Liberation Sans", sans-serif' font-size="24" font-weight="normal" font-style="normal" text-anchor="middle" fill="#000" transform="translate(150.90 437.10)">*</text>
<text x="0" y="0" font-family='"Liberation Sans", sans-serif' font-size="24" font-weight="normal" font-style="normal" text-anchor="middle" fill="#000" transform="translate(161.10 437.10)">*</text>
<text x="0" y="0" font-family='"Liberation Sans", sans-serif' font-size="30.0" font-weight="bold" font-style="normal" text-anchor="middle" fill="#000" stroke="#000" stroke-width="0.4" stroke-linejoin="round" transform="translate(566.40 370.00) scale(0.89 1)">C</text>
<rect x="470.85" y="513.85" width="32.10" height="97.05" fill="#fff"/>
<path d="M470.85 610.90 V513.85 H502.95 V610.90" fill="none" stroke="#000" stroke-width="3.5" stroke-linejoin="round"/>
<rect x="524.35" y="525.85" width="32.10" height="85.05" fill="#9e9e9e"/>
<path d="M524.35 610.90 V525.85 H556.45 V610.90" fill="none" stroke="#000" stroke-width="3.5" stroke-linejoin="round"/>
<rect x="578.05" y="553.25" width="32.10" height="57.65" fill="#fff"/>
<path d="M578.05 610.90 V553.25 H610.15 V610.90" fill="none" stroke="#000" stroke-width="3.5" stroke-linejoin="round"/>
<rect x="631.55" y="551.15" width="32.10" height="59.75" fill="#9e9e9e"/>
<path d="M631.55 610.90 V551.15 H663.65 V610.90" fill="none" stroke="#000" stroke-width="3.5" stroke-linejoin="round"/>
<line x1="486.90" y1="477.70" x2="486.90" y2="546.50" stroke="#000" stroke-width="1.3" stroke-linecap="butt"/>
<line x1="477.90" y1="477.70" x2="495.90" y2="477.70" stroke="#000" stroke-width="1.3" stroke-linecap="butt"/>
<line x1="477.90" y1="546.50" x2="495.90" y2="546.50" stroke="#000" stroke-width="1.3" stroke-linecap="butt"/>
<line x1="540.40" y1="497.60" x2="540.40" y2="549.70" stroke="#000" stroke-width="1.3" stroke-linecap="butt"/>
<line x1="531.40" y1="497.60" x2="549.40" y2="497.60" stroke="#000" stroke-width="1.3" stroke-linecap="butt"/>
<line x1="531.40" y1="549.70" x2="549.40" y2="549.70" stroke="#000" stroke-width="1.3" stroke-linecap="butt"/>
<line x1="594.10" y1="534.30" x2="594.10" y2="569.10" stroke="#000" stroke-width="1.3" stroke-linecap="butt"/>
<line x1="585.10" y1="534.30" x2="603.10" y2="534.30" stroke="#000" stroke-width="1.3" stroke-linecap="butt"/>
<line x1="585.10" y1="569.10" x2="603.10" y2="569.10" stroke="#000" stroke-width="1.3" stroke-linecap="butt"/>
<line x1="647.60" y1="534.70" x2="647.60" y2="563.50" stroke="#000" stroke-width="1.3" stroke-linecap="butt"/>
<line x1="638.60" y1="534.70" x2="656.60" y2="534.70" stroke="#000" stroke-width="1.3" stroke-linecap="butt"/>
<line x1="638.60" y1="563.50" x2="656.60" y2="563.50" stroke="#000" stroke-width="1.3" stroke-linecap="butt"/>
<circle cx="486.80" cy="447.90" r="2.35" fill="#000"/>
<circle cx="486.80" cy="476.50" r="2.35" fill="#000"/>
<circle cx="483.80" cy="490.20" r="2.35" fill="#000"/>
<circle cx="489.80" cy="495.40" r="2.35" fill="#000"/>
<circle cx="486.80" cy="502.90" r="2.35" fill="#000"/>
<circle cx="489.80" cy="521.50" r="2.35" fill="#000"/>
<circle cx="483.80" cy="522.90" r="2.35" fill="#000"/>
<circle cx="483.80" cy="525.30" r="2.35" fill="#000"/>
<circle cx="489.80" cy="529.80" r="2.35" fill="#000"/>
<circle cx="486.80" cy="552.00" r="2.35" fill="#000"/>
<circle cx="486.80" cy="570.30" r="2.35" fill="#000"/>
<circle cx="540.20" cy="483.50" r="2.4" fill="none" stroke="#000" stroke-width="1.7"/>
<circle cx="540.20" cy="495.40" r="2.4" fill="none" stroke="#000" stroke-width="1.7"/>
<circle cx="537.40" cy="502.60" r="2.4" fill="none" stroke="#000" stroke-width="1.7"/>
<circle cx="543.20" cy="502.90" r="2.4" fill="none" stroke="#000" stroke-width="1.7"/>
<circle cx="540.20" cy="510.90" r="2.4" fill="none" stroke="#000" stroke-width="1.7"/>
<circle cx="540.20" cy="530.30" r="2.4" fill="none" stroke="#000" stroke-width="1.7"/>
<circle cx="537.40" cy="536.50" r="2.4" fill="none" stroke="#000" stroke-width="1.7"/>
<circle cx="543.20" cy="539.60" r="2.4" fill="none" stroke="#000" stroke-width="1.7"/>
<circle cx="537.40" cy="545.60" r="2.4" fill="none" stroke="#000" stroke-width="1.7"/>
<circle cx="543.20" cy="548.80" r="2.4" fill="none" stroke="#000" stroke-width="1.7"/>
<circle cx="540.20" cy="565.10" r="2.4" fill="none" stroke="#000" stroke-width="1.7"/>
<polygon points="593.80,527.10 596.20,531.70 591.40,531.70" fill="#000"/>
<polygon points="596.80,535.60 599.20,540.20 594.40,540.20" fill="#000"/>
<polygon points="590.90,542.10 593.30,546.70 588.50,546.70" fill="#000"/>
<polygon points="590.90,548.60 593.30,553.20 588.50,553.20" fill="#000"/>
<polygon points="596.80,548.60 599.20,553.20 594.40,553.20" fill="#000"/>
<polygon points="590.90,569.10 593.30,573.70 588.50,573.70" fill="#000"/>
<polygon points="596.80,575.60 599.20,580.20 594.40,580.20" fill="#000"/>
<polygon points="647.40,526.70 649.60,530.90 645.20,530.90" fill="none" stroke="#000" stroke-width="2.0" stroke-linejoin="round"/>
<polygon points="644.40,553.20 646.60,557.40 642.20,557.40" fill="none" stroke="#000" stroke-width="2.0" stroke-linejoin="round"/>
<polygon points="650.20,553.20 652.40,557.40 648.00,557.40" fill="none" stroke="#000" stroke-width="2.0" stroke-linejoin="round"/>
<polygon points="647.40,564.70 649.60,568.90 645.20,568.90" fill="none" stroke="#000" stroke-width="2.0" stroke-linejoin="round"/>
<polygon points="647.40,537.90 650.50,544.50 644.30,544.50" fill="#000"/>
<line x1="451.60" y1="377.60" x2="451.60" y2="612.10" stroke="#000" stroke-width="2.45" stroke-linecap="butt"/>
<line x1="450.40" y1="610.90" x2="685.00" y2="610.90" stroke="#000" stroke-width="2.45" stroke-linecap="butt"/>
<line x1="441.10" y1="378.80" x2="451.60" y2="378.80" stroke="#000" stroke-width="2.35" stroke-linecap="butt"/>
<text x="0" y="0" font-family='"Liberation Sans", sans-serif' font-size="17.0" font-weight="bold" font-style="normal" text-anchor="end" fill="#000" stroke="#000" stroke-width="0.3" stroke-linejoin="round" transform="translate(438.80 385.10) scale(1.04 1)">2.0</text>
<line x1="441.10" y1="436.90" x2="451.60" y2="436.90" stroke="#000" stroke-width="2.35" stroke-linecap="butt"/>
<text x="0" y="0" font-family='"Liberation Sans", sans-serif' font-size="17.0" font-weight="bold" font-style="normal" text-anchor="end" fill="#000" stroke="#000" stroke-width="0.3" stroke-linejoin="round" transform="translate(438.80 443.20) scale(1.04 1)">1.5</text>
<line x1="441.10" y1="495.00" x2="451.60" y2="495.00" stroke="#000" stroke-width="2.35" stroke-linecap="butt"/>
<text x="0" y="0" font-family='"Liberation Sans", sans-serif' font-size="17.0" font-weight="bold" font-style="normal" text-anchor="end" fill="#000" stroke="#000" stroke-width="0.3" stroke-linejoin="round" transform="translate(438.80 501.30) scale(1.04 1)">1.0</text>
<line x1="441.10" y1="553.00" x2="451.60" y2="553.00" stroke="#000" stroke-width="2.35" stroke-linecap="butt"/>
<text x="0" y="0" font-family='"Liberation Sans", sans-serif' font-size="17.0" font-weight="bold" font-style="normal" text-anchor="end" fill="#000" stroke="#000" stroke-width="0.3" stroke-linejoin="round" transform="translate(438.80 559.30) scale(1.04 1)">0.5</text>
<line x1="441.10" y1="610.90" x2="451.60" y2="610.90" stroke="#000" stroke-width="2.35" stroke-linecap="butt"/>
<text x="0" y="0" font-family='"Liberation Sans", sans-serif' font-size="17.0" font-weight="bold" font-style="normal" text-anchor="end" fill="#000" stroke="#000" stroke-width="0.3" stroke-linejoin="round" transform="translate(438.80 617.20) scale(1.04 1)">0.0</text>
<line x1="486.40" y1="610.90" x2="486.40" y2="620.60" stroke="#000" stroke-width="2.3" stroke-linecap="butt"/>
<text x="0" y="0" font-family='"Liberation Sans", sans-serif' font-size="17.0" font-weight="bold" font-style="normal" text-anchor="middle" fill="#000" stroke="#000" stroke-width="0.3" stroke-linejoin="round" transform="translate(486.80 638.70) scale(1.04 1)">WKYc</text>
<line x1="540.00" y1="610.90" x2="540.00" y2="620.60" stroke="#000" stroke-width="2.3" stroke-linecap="butt"/>
<text x="0" y="0" font-family='"Liberation Sans", sans-serif' font-size="17.0" font-weight="bold" font-style="normal" text-anchor="middle" fill="#000" stroke="#000" stroke-width="0.3" stroke-linejoin="round" transform="translate(540.40 638.70) scale(1.04 1)">WKYi</text>
<line x1="593.80" y1="610.90" x2="593.80" y2="620.60" stroke="#000" stroke-width="2.3" stroke-linecap="butt"/>
<text x="0" y="0" font-family='"Liberation Sans", sans-serif' font-size="17.0" font-weight="bold" font-style="normal" text-anchor="middle" fill="#000" stroke="#000" stroke-width="0.3" stroke-linejoin="round" transform="translate(594.20 638.70) scale(1.04 1)">SHRc</text>
<line x1="647.30" y1="610.90" x2="647.30" y2="620.60" stroke="#000" stroke-width="2.3" stroke-linecap="butt"/>
<text x="0" y="0" font-family='"Liberation Sans", sans-serif' font-size="17.0" font-weight="bold" font-style="normal" text-anchor="middle" fill="#000" stroke="#000" stroke-width="0.3" stroke-linejoin="round" transform="translate(647.70 638.70) scale(1.04 1)">SHRi</text>
<text x="403.1" y="494.2" font-family='"Liberation Sans", sans-serif' font-size="21.7" font-weight="bold" text-anchor="middle" fill="#000" stroke="#000" stroke-width="0.6" stroke-linejoin="round" transform="rotate(-90 403.1 494.2)"><tspan font-style="italic">nr3c1</tspan> mRNA, RQ</text>
<path d="M487.1 431.2 H544.4 M515 431.2 V423.4 H625.3 V492.7 M594.5 492.7 H651.5" fill="none" stroke="#000" stroke-width="1.8"/>
<text x="0" y="0" font-family='"Liberation Sans", sans-serif' font-size="24" font-weight="normal" font-style="normal" text-anchor="middle" fill="#000" transform="translate(564.90 425.20)">*</text>
<text x="0" y="0" font-family='"Liberation Sans", sans-serif' font-size="24" font-weight="normal" font-style="normal" text-anchor="middle" fill="#000" transform="translate(575.60 425.20)">*</text>
</svg></body></html>
